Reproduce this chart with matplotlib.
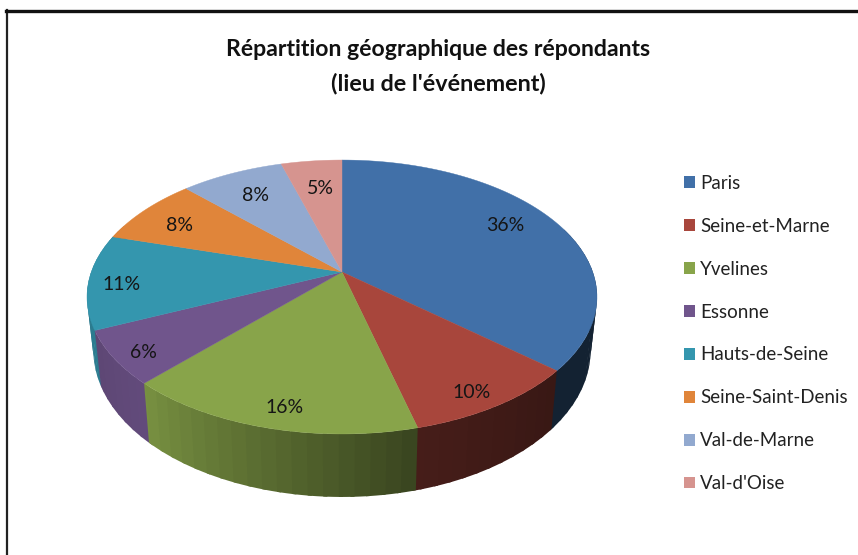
import numpy as np
import matplotlib
matplotlib.use("Agg")
import matplotlib.pyplot as plt
from matplotlib.patches import Polygon, Patch

categories = ["Paris", "Seine-et-Marne", "Yvelines", "Essonne", "Hauts-de-Seine",
              "Seine-Saint-Denis", "Val-de-Marne", "Val-d'Oise"]
shares = [36.4, 9.6, 16.0, 6.3, 11.2, 8.1, 7.8, 4.6]
title_lines = ["Répartition géographique des répondants", "(lieu de l'événement)"]

colors = ["#4170A8", "#A8463C", "#88A44A", "#70558C", "#3496AE", "#E0853A", "#92A9CF", "#D6948F"]
label_radius = [0.755, 0.855, 0.79, 0.88, 0.87, 0.81, 0.76, 0.67]
label_dy = [-7, 9, 18, 6, 4, 5, 1, -5]

CX, CY = 342, 272
K, A, B = 0.1825, 132.4, 250.7
DEPTH = 51.5
FONT = "Lato"


def project(t):
    """Angle in degrees, clockwise from top -> position on the tilted disc."""
    r = np.radians(t)
    u, v = np.sin(r), np.cos(r)
    w = 1 + K * v
    return CX + B * u / w, CY - A * v / w, w


def project_r(t, r):
    a = np.radians(t)
    u, v = r * np.sin(a), r * np.cos(a)
    w = 1 + K * v
    return CX + B * u / w, CY - A * v / w


def lower(x, y, w):
    return CX + (x - CX) * 0.975, y + DEPTH / w


def shade(t, i):
    if i == 0:
        return 0.30
    return np.interp(t, [130, 166, 223, 260, 300], [0.33, 0.42, 0.88, 0.80, 0.80])


fig = plt.figure(figsize=(8.58, 5.55), dpi=100)
ax = fig.add_axes([0, 0, 1, 1])
ax.set_xlim(0, 858)
ax.set_ylim(555, 0)
ax.axis("off")

# frame around the chart (open to the right and the bottom)
ax.plot([6.5, 6.5], [555, 10], color="#222222", lw=1.6, zorder=1)
ax.plot([6, 858], [10.5, 10.5], color="#111111", lw=2.4, zorder=1)

edges = np.cumsum([0] + shares) / sum(shares) * 360

# side wall, cut into narrow overlapping facets, painted from the sides to the front
facets = []
for i, (a0, a1) in enumerate(zip(edges[:-1], edges[1:])):
    lo, hi = max(a0, 70), min(a1, 292)
    if hi <= lo:
        continue
    steps = np.arange(lo, hi, 3.0).tolist() + [hi]
    base = np.array(matplotlib.colors.to_rgb(colors[i]))
    for s0, s1 in zip(steps[:-1], steps[1:]):
        facets.append((s0, s1, tuple(np.clip(base * shade((s0 + s1) / 2, i), 0, 1))))

facets.sort(key=lambda f: -abs((f[0] + f[1]) / 2 - 180))
for s0, s1, c in facets:
    grow = 0.8
    ts = np.linspace(s0 - (grow if s0 > 180 else 0), s1 + (grow if s1 < 180 else 0), 5)
    top = [project(t) for t in ts]
    bot = [lower(*p) for p in top]
    pts = [(p[0], p[1]) for p in top] + bot[::-1]
    ax.add_patch(Polygon(pts, closed=True, facecolor=c, edgecolor="none", lw=0, zorder=2))

# top face
for i, (a0, a1) in enumerate(zip(edges[:-1], edges[1:])):
    ts = np.linspace(a0, a1, 80)
    pts = [(CX, CY)] + [project(t)[:2] for t in ts]
    ax.add_patch(Polygon(pts, closed=True, facecolor=colors[i], edgecolor=colors[i], lw=0.3, zorder=3))

# percentage labels
for i, (a0, a1) in enumerate(zip(edges[:-1], edges[1:])):
    x, y = project_r((a0 + a1) / 2, label_radius[i])
    ax.text(x, y + label_dy[i], f"{shares[i]:.0f}%", ha="center", va="center", fontsize=14,
            family=FONT, color="#151515", zorder=4)

# title
ax.text(438, 49, title_lines[0], ha="center", va="center", fontsize=16.6,
        family=FONT, fontweight="bold", color="#111111")
ax.text(438, 84, title_lines[1], ha="center", va="center", fontsize=16.8,
        family=FONT, fontweight="bold", color="#111111")

# legend
handles = [Patch(facecolor=c, edgecolor="none") for c in colors]
ax.legend(handles, categories, loc="upper left", bbox_to_anchor=(684, 175),
          bbox_transform=ax.transData, frameon=False, ncol=1,
          prop={"family": FONT, "size": 13.5}, labelcolor="#222222",
          handlelength=0.6, handleheight=0.6, handletextpad=0.27,
          labelspacing=1.38, borderpad=0, borderaxespad=0)

fig.savefig("out.png", dpi=100)
